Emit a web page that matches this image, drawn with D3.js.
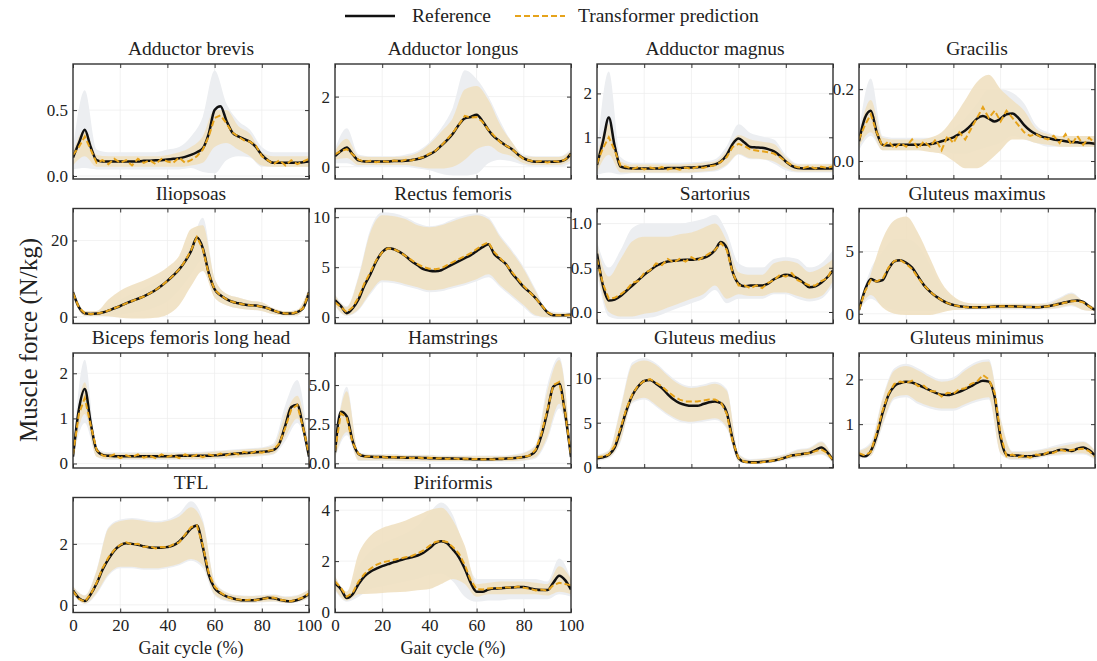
<!DOCTYPE html>
<html>
<head>
<meta charset="utf-8">
<script src="https://cdn.jsdelivr.net/npm/d3@7"></script>
<style>
body { margin: 0; background: #fff; }
text { font-family: "Liberation Serif", "Times New Roman", serif; }
</style>
</head>
<body>
<script>
var muscles = ["Adductor brevis", "Adductor longus", "Adductor magnus", "Gracilis",
    "Iliopsoas", "Rectus femoris", "Sartorius", "Gluteus maximus",
    "Biceps femoris long head", "Hamstrings", "Gluteus medius", "Gluteus minimus",
    "TFL", "Piriformis"];

// gait cycle samples (%): lines use the fine grid, SD bands the coarse one
var gaitFine = [0, 2.5, 5, 7.5, 10, 12.5, 15, 17.5, 20, 22.5, 25, 27.5, 30, 32.5, 35, 37.5, 40,
    42.5, 45, 47.5, 50, 52.5, 55, 57.5, 60, 62.5, 65, 67.5, 70, 72.5, 75, 77.5, 80, 82.5, 85,
    87.5, 90, 92.5, 95, 97.5, 100];
var gaitCoarse = [0, 5, 10, 15, 20, 25, 30, 35, 40, 45, 50, 55, 60, 65, 70, 75, 80, 85, 90, 95, 100];
var xTicks = [0, 20, 40, 60, 80, 100];

var refMean = [
    [0.14,0.25,0.35,0.22,0.12,0.11,0.11,0.11,0.11,0.11,0.11,0.11,0.115,0.115,0.12,0.12,0.125,0.13,0.135,0.145,0.16,0.18,0.21,0.32,0.5,0.53,0.42,0.33,0.3,0.28,0.26,0.22,0.16,0.12,0.1,0.1,0.1,0.1,0.1,0.105,0.11],
    [0.3,0.45,0.55,0.35,0.18,0.15,0.15,0.15,0.15,0.15,0.16,0.16,0.17,0.19,0.22,0.27,0.35,0.45,0.6,0.76,0.95,1.2,1.38,1.42,1.48,1.3,1.05,0.85,0.72,0.6,0.5,0.35,0.24,0.17,0.14,0.14,0.14,0.14,0.15,0.2,0.38],
    [0.37,0.9,1.45,0.8,0.33,0.3,0.29,0.29,0.29,0.29,0.29,0.29,0.3,0.3,0.3,0.31,0.31,0.32,0.33,0.35,0.38,0.45,0.6,0.85,0.97,0.88,0.78,0.77,0.76,0.73,0.68,0.58,0.45,0.35,0.3,0.29,0.29,0.29,0.29,0.29,0.29],
    [0.055,0.12,0.14,0.08,0.045,0.043,0.045,0.045,0.045,0.045,0.045,0.046,0.047,0.05,0.055,0.06,0.066,0.075,0.085,0.1,0.118,0.125,0.118,0.11,0.118,0.13,0.132,0.12,0.1,0.085,0.075,0.068,0.064,0.06,0.058,0.055,0.053,0.052,0.05,0.05,0.048],
    [6.4,2.5,0.9,0.7,0.8,1.1,1.6,2.2,2.8,3.5,4.1,4.7,5.3,6.1,7.0,8.1,9.4,10.8,12.4,14.5,17.2,20.8,18.0,11.5,7.2,5.6,4.6,3.9,3.5,3.2,3.0,2.9,2.6,2.2,1.6,1.1,0.8,0.8,1.2,2.2,6.4],
    [1.7,1.1,0.4,0.9,1.8,3.2,4.3,5.6,6.5,6.9,6.8,6.5,6.1,5.6,5.2,4.8,4.65,4.6,4.7,5.0,5.3,5.6,5.9,6.2,6.6,7.0,7.3,6.3,5.8,5.3,4.4,3.7,3.0,2.5,1.9,1.2,0.5,0.2,0.2,0.2,0.25],
    [0.66,0.3,0.13,0.14,0.18,0.24,0.3,0.36,0.42,0.47,0.52,0.55,0.57,0.58,0.585,0.59,0.59,0.6,0.61,0.64,0.7,0.79,0.72,0.45,0.32,0.29,0.3,0.3,0.3,0.32,0.37,0.4,0.42,0.41,0.38,0.33,0.28,0.29,0.33,0.39,0.47],
    [0.3,1.9,2.8,2.6,2.7,3.6,4.2,4.3,4.1,3.7,3.0,2.3,1.8,1.4,1.1,0.85,0.7,0.6,0.55,0.52,0.52,0.53,0.55,0.58,0.6,0.6,0.6,0.58,0.56,0.54,0.53,0.55,0.6,0.7,0.8,0.92,1.02,1.07,0.95,0.6,0.3],
    [0.15,1.2,1.65,0.9,0.3,0.19,0.17,0.16,0.16,0.16,0.16,0.16,0.16,0.16,0.16,0.16,0.16,0.16,0.17,0.17,0.17,0.17,0.17,0.17,0.18,0.19,0.2,0.21,0.22,0.23,0.24,0.25,0.26,0.27,0.3,0.45,0.85,1.25,1.3,0.8,0.15],
    [0.7,3.3,3.0,1.4,0.6,0.45,0.42,0.4,0.4,0.39,0.38,0.37,0.36,0.35,0.35,0.34,0.33,0.32,0.31,0.3,0.3,0.29,0.28,0.27,0.26,0.26,0.26,0.27,0.28,0.3,0.32,0.35,0.4,0.5,0.8,1.8,3.3,4.9,5.1,3.2,0.4],
    [1.0,1.1,1.4,2.2,4.2,6.4,8.1,9.1,9.7,9.8,9.4,8.9,8.2,7.6,7.2,7.0,6.9,6.9,7.1,7.3,7.4,7.2,6.1,3.1,1.0,0.6,0.55,0.55,0.6,0.65,0.75,0.9,1.1,1.3,1.4,1.5,1.6,1.9,2.2,1.7,0.8],
    [0.32,0.28,0.4,0.75,1.25,1.65,1.85,1.92,1.95,1.93,1.88,1.82,1.76,1.7,1.66,1.65,1.68,1.72,1.78,1.85,1.92,1.97,1.95,1.6,0.7,0.32,0.3,0.3,0.28,0.28,0.3,0.32,0.35,0.38,0.42,0.43,0.4,0.45,0.48,0.42,0.3],
    [0.47,0.22,0.13,0.35,0.7,1.15,1.5,1.78,1.95,2.02,2.0,1.97,1.92,1.88,1.87,1.87,1.9,1.95,2.08,2.28,2.5,2.6,1.9,1.0,0.55,0.38,0.28,0.22,0.17,0.15,0.15,0.16,0.19,0.23,0.22,0.17,0.13,0.12,0.16,0.24,0.36],
    [1.12,0.9,0.55,0.7,1.1,1.4,1.58,1.7,1.8,1.88,1.96,2.03,2.1,2.15,2.22,2.33,2.5,2.7,2.78,2.7,2.45,2.15,1.7,1.15,0.8,0.8,0.88,0.92,0.93,0.95,0.96,0.98,0.98,0.93,0.88,0.86,0.86,1.15,1.42,1.25,0.88]
];

var predMean = [
    [0.16,0.22,0.3,0.2,0.1,0.12,0.09,0.13,0.1,0.12,0.08,0.13,0.1,0.12,0.09,0.13,0.11,0.1,0.14,0.1,0.12,0.15,0.2,0.3,0.44,0.46,0.4,0.33,0.3,0.27,0.26,0.23,0.15,0.12,0.09,0.12,0.08,0.12,0.09,0.11,0.13],
    [0.35,0.45,0.5,0.35,0.2,0.14,0.17,0.13,0.16,0.14,0.18,0.15,0.2,0.18,0.24,0.27,0.37,0.45,0.6,0.78,0.98,1.2,1.45,1.4,1.42,1.28,1.05,0.88,0.7,0.6,0.5,0.35,0.22,0.18,0.14,0.16,0.12,0.16,0.14,0.2,0.35],
    [0.4,0.75,1.0,0.7,0.35,0.33,0.28,0.32,0.27,0.31,0.28,0.32,0.27,0.3,0.26,0.31,0.28,0.33,0.3,0.34,0.36,0.44,0.55,0.78,0.85,0.8,0.72,0.7,0.68,0.66,0.63,0.55,0.45,0.36,0.32,0.3,0.34,0.29,0.33,0.3,0.34],
    [0.06,0.1,0.13,0.08,0.04,0.055,0.035,0.05,0.04,0.06,0.035,0.055,0.04,0.06,0.03,0.07,0.05,0.08,0.06,0.09,0.12,0.15,0.12,0.14,0.11,0.14,0.12,0.1,0.08,0.07,0.075,0.065,0.06,0.07,0.05,0.075,0.045,0.07,0.045,0.065,0.05],
    [6.2,2.4,0.9,0.7,0.8,1.1,1.6,2.2,2.8,3.5,4.1,4.7,5.3,6.1,7.0,8.1,9.4,10.8,12.4,14.6,17.4,20.9,17.8,11.2,7.1,5.6,4.6,3.9,3.5,3.2,3.0,2.9,2.6,2.2,1.6,1.1,0.8,0.8,1.2,2.2,6.2],
    [1.5,1.0,0.5,1.0,2.0,3.4,4.5,5.7,6.5,6.9,6.8,6.5,6.1,5.7,5.3,5.0,4.85,4.8,4.9,5.2,5.5,5.8,6.1,6.4,6.8,7.2,7.5,6.5,5.9,5.3,4.5,3.8,3.1,2.5,1.9,1.2,0.5,0.2,0.2,0.2,0.2],
    [0.6,0.32,0.15,0.16,0.2,0.25,0.33,0.35,0.44,0.47,0.55,0.53,0.6,0.56,0.6,0.57,0.62,0.58,0.62,0.66,0.7,0.78,0.7,0.44,0.3,0.3,0.27,0.3,0.27,0.33,0.36,0.42,0.4,0.44,0.36,0.33,0.3,0.3,0.35,0.38,0.5],
    [0.3,1.8,2.7,2.6,2.8,3.7,4.25,4.3,4.0,3.6,2.9,2.3,1.8,1.4,1.1,0.85,0.7,0.6,0.55,0.52,0.5,0.52,0.55,0.57,0.6,0.6,0.58,0.58,0.56,0.54,0.53,0.55,0.6,0.68,0.78,0.9,1.0,1.02,0.92,0.6,0.3],
    [0.2,1.1,1.45,0.85,0.3,0.18,0.15,0.2,0.12,0.18,0.14,0.2,0.13,0.17,0.12,0.2,0.15,0.18,0.12,0.2,0.15,0.19,0.14,0.2,0.17,0.22,0.18,0.24,0.2,0.26,0.22,0.27,0.24,0.28,0.3,0.45,0.8,1.2,1.3,0.8,0.2],
    [0.8,3.2,2.9,1.3,0.6,0.42,0.45,0.38,0.42,0.36,0.4,0.35,0.38,0.33,0.37,0.32,0.35,0.3,0.33,0.28,0.32,0.27,0.3,0.25,0.28,0.24,0.27,0.25,0.3,0.28,0.33,0.34,0.42,0.5,0.85,1.9,3.4,5.0,5.2,3.3,0.5],
    [1.1,1.2,1.4,2.4,4.4,6.6,8.2,9.2,9.7,9.9,9.5,9.1,8.5,8.0,7.6,7.4,7.4,7.4,7.5,7.6,7.6,7.3,6.0,2.9,1.0,0.6,0.5,0.5,0.55,0.65,0.75,0.9,1.1,1.3,1.4,1.5,1.6,1.8,2.0,1.6,0.8],
    [0.35,0.3,0.38,0.8,1.3,1.68,1.9,1.95,1.92,1.97,1.85,1.86,1.74,1.73,1.62,1.7,1.68,1.78,1.8,1.9,1.95,2.1,2.0,1.7,0.75,0.28,0.32,0.26,0.3,0.25,0.32,0.3,0.37,0.36,0.43,0.4,0.42,0.44,0.45,0.4,0.28],
    [0.45,0.2,0.1,0.35,0.72,1.2,1.55,1.8,1.97,2.05,1.98,2.0,1.9,1.92,1.85,1.9,1.88,1.98,2.05,2.3,2.55,2.6,1.95,1.05,0.6,0.4,0.28,0.2,0.18,0.15,0.17,0.15,0.2,0.22,0.24,0.17,0.14,0.12,0.18,0.24,0.38],
    [1.2,0.95,0.6,0.75,1.2,1.5,1.7,1.85,1.95,2.0,2.05,2.1,2.15,2.2,2.3,2.42,2.6,2.75,2.8,2.75,2.55,2.3,1.85,1.25,0.9,0.88,0.92,0.95,0.93,0.97,0.95,1.0,0.95,0.92,0.85,0.88,0.84,1.05,1.15,1.1,1.05]
];

// +-1 SD of the reference (grey) and of the prediction (tan), on gaitCoarse
var refSdLo = [
    [0.05,0.06,0.05,0.05,0.05,0.05,0.05,0.05,0.05,0.05,0.06,0.03,0.02,0.12,0.15,0.14,0.07,0.07,0.07,0.07,0.07],
    [0.1,0.1,0.0,0.0,0.0,0.0,0.0,-0.05,-0.1,-0.2,-0.25,-0.25,-0.2,0.1,0.2,0.15,0.05,0.0,0.0,0.0,0.1],
    [0.15,0.2,0.15,0.18,0.18,0.18,0.18,0.18,0.18,0.2,0.22,0.35,0.6,0.5,0.5,0.4,0.25,0.2,0.2,0.2,0.2],
    [0.03,0.07,0.03,0.03,0.03,0.03,0.03,0.03,0.02,0.02,0.03,0.04,0.05,0.07,0.06,0.05,0.04,0.04,0.04,0.04,0.04],
    [5,0.2,0.2,0.3,0.5,1,1.5,2.5,4,7,11,15,5,3,2.2,1.8,1.5,0.6,0.3,0.3,5],
    [1.1,0.1,0.7,2.3,3.5,3.4,3.1,2.8,2.5,2.6,2.9,3.2,3.6,4.0,3.0,2.0,1.0,0.1,0.0,0.0,0.05],
    [0.45,-0.05,-0.08,-0.08,-0.07,-0.05,0.0,0.05,0.1,0.15,0.25,0.1,0.15,0.15,0.15,0.2,0.2,0.15,0.12,0.15,0.3],
    [0.2,1.2,0.6,0.3,0.2,0.2,0.2,0.25,0.3,0.35,0.35,0.35,0.35,0.35,0.35,0.35,0.35,0.45,0.6,0.3,0.2],
    [0.1,0.9,0.15,0.08,0.08,0.08,0.08,0.08,0.08,0.08,0.08,0.08,0.1,0.1,0.12,0.14,0.16,0.2,0.5,0.9,0.1],
    [0.3,1.8,0.15,0.15,0.15,0.15,0.12,0.12,0.1,0.1,0.1,0.1,0.1,0.1,0.1,0.1,0.15,0.3,1.5,3.5,0.1],
    [0.7,1.0,2.8,7.2,7.6,6.8,5.8,5.1,4.9,5.1,5.3,4.3,0.6,0.35,0.4,0.5,0.8,1.0,1.2,1.4,0.5],
    [0.22,0.28,0.95,1.55,1.6,1.45,1.35,1.3,1.3,1.4,1.5,1.55,0.33,0.2,0.2,0.22,0.28,0.3,0.32,0.32,0.2],
    [0.33,0.03,0.35,0.95,1.2,1.2,1.15,1.15,1.2,1.3,1.45,1.2,0.3,0.12,0.06,0.06,0.08,0.1,0.05,0.08,0.22],
    [0.85,0.4,0.6,0.9,1.0,1.1,1.2,1.3,1.45,1.5,1.2,0.6,0.4,0.45,0.45,0.5,0.5,0.5,0.5,0.7,0.6]
];
var refSdHi = [
    [0.2,0.65,0.2,0.18,0.18,0.18,0.18,0.18,0.2,0.22,0.3,0.45,0.8,0.55,0.42,0.35,0.22,0.18,0.18,0.18,0.18],
    [0.5,1.1,0.35,0.3,0.3,0.3,0.35,0.45,0.7,1.1,1.7,2.75,2.5,2.0,1.3,0.7,0.35,0.3,0.3,0.3,0.5],
    [0.6,2.5,0.55,0.42,0.42,0.42,0.42,0.42,0.43,0.45,0.5,0.8,1.3,1.1,1.02,0.95,0.6,0.4,0.4,0.4,0.4],
    [0.08,0.23,0.07,0.065,0.065,0.065,0.065,0.07,0.09,0.12,0.16,0.2,0.2,0.19,0.16,0.1,0.08,0.07,0.07,0.07,0.07],
    [7.5,1.5,1.4,2.5,4.5,6,7.5,9,11,14,19,26,10,6,5,4.2,3.8,2,1.4,1.8,7.5],
    [2.3,1.1,4.2,8.8,10.5,10.4,10.0,9.4,9.1,9.3,9.8,10.2,10.4,10.0,8.2,6.7,5.0,2.8,0.7,0.5,0.5],
    [0.8,0.5,0.7,0.95,1.0,1.0,1.0,1.0,1.02,1.05,1.1,0.9,0.55,0.5,0.5,0.6,0.62,0.6,0.5,0.55,0.7],
    [0.6,3.6,5.0,6.0,6.0,5.5,4.0,2.2,1.3,0.9,0.8,0.8,0.8,0.8,0.8,0.8,0.9,1.3,1.7,1.0,0.5],
    [0.3,2.3,0.35,0.25,0.25,0.25,0.25,0.25,0.25,0.25,0.25,0.26,0.28,0.3,0.32,0.34,0.36,0.45,1.3,1.85,0.3],
    [1.2,4.9,0.7,0.6,0.6,0.6,0.55,0.55,0.55,0.5,0.5,0.5,0.5,0.5,0.5,0.55,0.7,1.2,5.0,6.8,0.8],
    [1.4,1.9,6.8,11.8,12.3,11.7,10.5,9.5,9.1,9.3,9.6,8.8,1.5,0.9,1.0,1.2,1.5,2.0,2.2,2.9,1.1],
    [0.42,0.6,1.6,2.25,2.35,2.25,2.1,2.0,2.05,2.25,2.4,2.45,1.15,0.4,0.4,0.42,0.48,0.55,0.6,0.62,0.42],
    [0.62,0.32,1.15,2.55,2.8,2.85,2.8,2.75,2.8,3.0,3.4,2.8,0.8,0.42,0.32,0.3,0.32,0.35,0.28,0.32,0.52],
    [1.4,0.8,1.8,2.4,2.7,2.9,3.1,3.4,3.9,4.3,3.8,2.4,1.3,1.3,1.3,1.3,1.3,1.3,1.2,2.1,1.3]
];
var predSdLo = [
    [0.08,0.15,0.07,0.07,0.07,0.07,0.07,0.07,0.07,0.07,0.08,0.1,0.22,0.25,0.2,0.15,0.08,0.07,0.07,0.07,0.07],
    [0.2,0.25,0.05,0.05,0.05,0.05,0.05,0.0,-0.05,-0.05,0.0,0.2,0.5,0.6,0.4,0.3,0.1,0.05,0.05,0.05,0.2],
    [0.2,0.6,0.2,0.2,0.2,0.2,0.2,0.2,0.2,0.22,0.25,0.38,0.62,0.52,0.5,0.45,0.3,0.22,0.22,0.22,0.22],
    [0.04,0.08,0.03,0.03,0.03,0.03,0.025,0.02,0.0,-0.02,-0.02,0.0,0.03,0.06,0.06,0.05,0.045,0.04,0.04,0.04,0.04],
    [5,0.2,0.2,0.1,-0.3,-0.5,-0.5,-0.3,0.5,3,8,12,5,3,2.2,1.8,1.5,0.6,0.3,0.3,5],
    [1.2,0.2,0.8,2.5,3.7,3.6,3.3,3.0,2.7,2.8,3.1,3.4,3.8,4.3,3.2,2.2,1.2,0.2,0.0,0.0,0.1],
    [0.5,0.0,-0.05,-0.05,-0.02,0.0,0.05,0.1,0.15,0.2,0.3,0.15,0.2,0.18,0.18,0.22,0.22,0.18,0.15,0.18,0.35],
    [0.2,1.5,0.5,0.0,-0.1,-0.1,-0.1,0.1,0.3,0.35,0.4,0.4,0.4,0.4,0.4,0.4,0.4,0.5,0.7,0.3,0.2],
    [0.12,1.1,0.15,0.1,0.1,0.1,0.1,0.1,0.1,0.1,0.1,0.1,0.12,0.13,0.14,0.16,0.18,0.22,0.6,1.0,0.12],
    [0.4,2.0,0.2,0.2,0.2,0.2,0.18,0.18,0.15,0.15,0.15,0.15,0.15,0.15,0.15,0.15,0.2,0.4,1.7,3.8,0.2],
    [0.8,1.1,3.0,7.4,7.8,7.0,6.0,5.3,5.1,5.3,5.5,4.5,0.7,0.4,0.45,0.6,0.9,1.1,1.3,1.5,0.6],
    [0.25,0.3,1.0,1.6,1.65,1.5,1.4,1.35,1.35,1.45,1.55,1.6,0.35,0.22,0.22,0.25,0.3,0.33,0.35,0.35,0.22],
    [0.35,0.05,0.4,1.0,1.25,1.25,1.2,1.2,1.25,1.35,1.5,1.3,0.35,0.15,0.08,0.08,0.1,0.12,0.06,0.1,0.25],
    [0.9,0.45,0.7,0.72,0.75,0.78,0.8,0.85,0.9,1.1,1.3,1.1,0.6,0.7,0.7,0.7,0.7,0.7,0.65,0.8,0.7]
];
var predSdHi = [
    [0.18,0.35,0.16,0.15,0.15,0.15,0.15,0.15,0.16,0.18,0.22,0.3,0.5,0.5,0.38,0.32,0.18,0.15,0.15,0.15,0.15],
    [0.45,0.8,0.3,0.28,0.28,0.28,0.3,0.4,0.65,1.0,1.4,2.2,2.3,1.9,1.2,0.7,0.3,0.28,0.28,0.28,0.45],
    [0.55,1.3,0.45,0.38,0.38,0.38,0.38,0.38,0.4,0.42,0.45,0.7,1.05,0.95,0.9,0.85,0.55,0.38,0.38,0.38,0.4],
    [0.07,0.17,0.065,0.06,0.06,0.06,0.065,0.08,0.12,0.17,0.22,0.24,0.2,0.17,0.14,0.09,0.075,0.07,0.07,0.07,0.07],
    [7.5,1.5,1.5,4.5,6.8,8.3,9.5,11,13,16,23,24,10,6,5,4.2,3.8,2.2,1.4,1.8,7.5],
    [2.2,1.0,4.0,8.5,10.2,10.1,9.8,9.2,9.0,9.2,9.6,10.0,10.2,9.8,8.0,6.5,4.8,2.6,0.6,0.4,0.4],
    [0.75,0.4,0.6,0.8,0.85,0.85,0.85,0.88,0.9,0.95,1.0,0.8,0.45,0.42,0.42,0.55,0.58,0.55,0.45,0.5,0.6],
    [0.5,3.2,6.0,7.5,7.8,6.5,4.5,2.5,1.4,0.9,0.8,0.8,0.8,0.8,0.8,0.8,0.8,1.2,1.6,1.0,0.5],
    [0.25,1.8,0.3,0.22,0.22,0.22,0.22,0.22,0.22,0.22,0.22,0.24,0.26,0.28,0.3,0.32,0.34,0.4,1.1,1.5,0.25],
    [1.1,4.6,0.65,0.55,0.55,0.55,0.5,0.5,0.5,0.45,0.45,0.45,0.45,0.45,0.45,0.5,0.65,1.1,4.6,6.6,0.7],
    [1.3,1.8,6.5,11.5,12.0,11.5,10.3,9.3,8.9,9.1,9.4,8.6,1.4,0.8,0.9,1.1,1.4,1.9,2.1,2.8,1.0],
    [0.4,0.55,1.55,2.2,2.3,2.2,2.05,1.95,2.0,2.2,2.35,2.4,1.1,0.38,0.38,0.4,0.45,0.5,0.55,0.6,0.4],
    [0.6,0.3,1.1,2.5,2.75,2.8,2.75,2.7,2.75,2.9,3.2,2.7,0.75,0.4,0.3,0.28,0.3,0.32,0.25,0.3,0.5],
    [1.4,0.8,2.3,3.0,3.3,3.45,3.6,3.8,4.0,4.1,3.6,2.6,1.1,1.15,1.2,1.2,1.2,1.15,1.1,1.8,1.3]
];

var yDomains = [[-0.023, 0.85], [-0.35, 2.93], [0.05, 2.67], [-0.05, 0.27],
    [-1.8, 28.4], [-0.63, 10.87], [-0.13, 1.17], [-0.78, 8.45],
    [-0.1, 2.45], [-0.3, 7.05], [-0.1, 12.85], [0.02, 2.59],
    [-0.25, 3.52], [-0.02, 4.5]];
var yTicks = [[0, 0.5], [0, 2], [1, 2], [0, 0.2],
    [0, 20], [0, 5, 10], [0, 0.5, 1], [0, 5],
    [0, 1, 2], [0, 2.5, 5], [0, 5, 10], [1, 2],
    [0, 2], [0, 2, 4]];
var yTickLabels = [["0.0", "0.5"], ["0", "2"], ["1", "2"], ["0.0", "0.2"],
    ["0", "20"], ["0", "5", "10"], ["0.0", "0.5", "1.0"], ["0", "5"],
    ["0", "1", "2"], ["0.0", "2.5", "5.0"], ["0", "5", "10"], ["1", "2"],
    ["0", "2"], ["0", "2", "4"]];

var width = 1097,
    height = 661;
var colLeft = [73, 335, 597, 859],
    rowTop = [64, 208.5, 353, 497.5],
    panelW = 236,
    panelH = 115;
var refColor = "#111",
    predColor = "#e6a31b",
    greyBand = "#eceef1",
    tanBand = "#efe0c1",
    frameColor = "#333",
    textColor = "#222";

var svg = d3.select("body").append("svg")
    .attr("width", width)
    .attr("height", height);

muscles.forEach(function(name, i) {
    var left = colLeft[i % 4],
        top = rowTop[Math.floor(i / 4)],
        bottomRow = i >= 12;

    var x = d3.scaleLinear().domain([0, 100]).range([0, panelW]);
    var y = d3.scaleLinear().domain(yDomains[i]).range([panelH, 0]);

    var g = svg.append("g").attr("transform", "translate(" + left + "," + top + ")");

    g.append("clipPath").attr("id", "clip" + i)
        .append("rect").attr("width", panelW).attr("height", panelH);

    // faint grid
    g.selectAll("line.gx").data(xTicks).enter().append("line")
        .attr("class", "gx")
        .attr("x1", function(d) { return x(d); })
        .attr("x2", function(d) { return x(d); })
        .attr("y1", 0).attr("y2", panelH)
        .attr("stroke", "#ededed").attr("stroke-width", 0.7);
    g.selectAll("line.gy").data(yTicks[i]).enter().append("line")
        .attr("class", "gy")
        .attr("x1", 0).attr("x2", panelW)
        .attr("y1", function(d) { return y(d); })
        .attr("y2", function(d) { return y(d); })
        .attr("stroke", "#ededed").attr("stroke-width", 0.7);

    var plot = g.append("g").attr("clip-path", "url(#clip" + i + ")");

    function band(lo, hi) {
        return d3.area()
            .x(function(d, k) { return x(gaitCoarse[k]); })
            .y0(function(d, k) { return y(lo[k]); })
            .y1(function(d, k) { return y(hi[k]); })
            .curve(d3.curveMonotoneX)(lo);
    }

    plot.append("path")
        .attr("d", band(refSdLo[i], refSdHi[i]))
        .attr("fill", greyBand);
    plot.append("path")
        .attr("d", band(predSdLo[i], predSdHi[i]))
        .attr("fill", tanBand)
        .attr("fill-opacity", 0.9);

    var refLine = d3.line()
        .x(function(d, k) { return x(gaitFine[k]); })
        .y(function(d) { return y(d); })
        .curve(d3.curveMonotoneX);
    var predLine = d3.line()
        .x(function(d, k) { return x(gaitFine[k]); })
        .y(function(d) { return y(d); });

    plot.append("path")
        .datum(refMean[i])
        .attr("d", refLine)
        .attr("fill", "none")
        .attr("stroke", refColor)
        .attr("stroke-width", 2.5);
    plot.append("path")
        .datum(predMean[i])
        .attr("d", predLine)
        .attr("fill", "none")
        .attr("stroke", predColor)
        .attr("stroke-width", 2)
        .attr("stroke-dasharray", "6,3");

    // inward ticks on all four sides
    var axes = [
        d3.axisLeft(y).tickValues(yTicks[i]).tickFormat(function(d, k) { return yTickLabels[i][k]; }),
        d3.axisRight(y).tickValues(yTicks[i]).tickFormat(""),
        d3.axisTop(x).tickValues(xTicks).tickFormat(""),
        d3.axisBottom(x).tickValues(xTicks).tickFormat(bottomRow ? d3.format("d") : "")
    ];
    var shifts = ["translate(0,0)", "translate(" + panelW + ",0)", "translate(0,0)", "translate(0," + panelH + ")"];
    axes.forEach(function(ax, a) {
        ax.tickSizeInner(-4).tickSizeOuter(0).tickPadding(a === 3 ? 6 : 5);
        var ag = g.append("g").attr("transform", shifts[a]).call(ax);
        ag.select(".domain").remove();
        ag.selectAll(".tick line").attr("stroke", frameColor).attr("stroke-width", 1);
        ag.selectAll(".tick text")
            .style("font-family", "'Liberation Serif', serif")
            .style("font-size", "17px")
            .attr("fill", textColor);
    });

    g.append("rect")
        .attr("width", panelW).attr("height", panelH)
        .attr("fill", "none")
        .attr("stroke", frameColor)
        .attr("stroke-width", 1.4);

    g.append("text")
        .attr("x", panelW / 2).attr("y", -9)
        .attr("text-anchor", "middle")
        .style("font-size", "19.5px")
        .attr("fill", textColor)
        .text(name);

    if (bottomRow) {
        g.append("text")
            .attr("x", panelW / 2).attr("y", panelH + 41)
            .attr("text-anchor", "middle")
            .style("font-size", "18px")
            .attr("fill", textColor)
            .text("Gait cycle (%)");
    }
});

// shared y label
svg.append("text")
    .attr("transform", "translate(37,340) rotate(-90)")
    .attr("text-anchor", "middle")
    .style("font-size", "25px")
    .attr("fill", textColor)
    .text("Muscle force (N/kg)");

// legend
var legend = svg.append("g");
legend.append("line")
    .attr("x1", 345).attr("x2", 395).attr("y1", 16).attr("y2", 16)
    .attr("stroke", refColor).attr("stroke-width", 2.5);
legend.append("text")
    .attr("x", 412).attr("y", 22)
    .style("font-size", "19.5px").attr("fill", textColor)
    .text("Reference");
legend.append("line")
    .attr("x1", 515).attr("x2", 565).attr("y1", 16).attr("y2", 16)
    .attr("stroke", predColor).attr("stroke-width", 2)
    .attr("stroke-dasharray", "6,3");
legend.append("text")
    .attr("x", 578).attr("y", 22)
    .style("font-size", "19.5px").attr("fill", textColor)
    .text("Transformer prediction");
</script>
</body>
</html>
